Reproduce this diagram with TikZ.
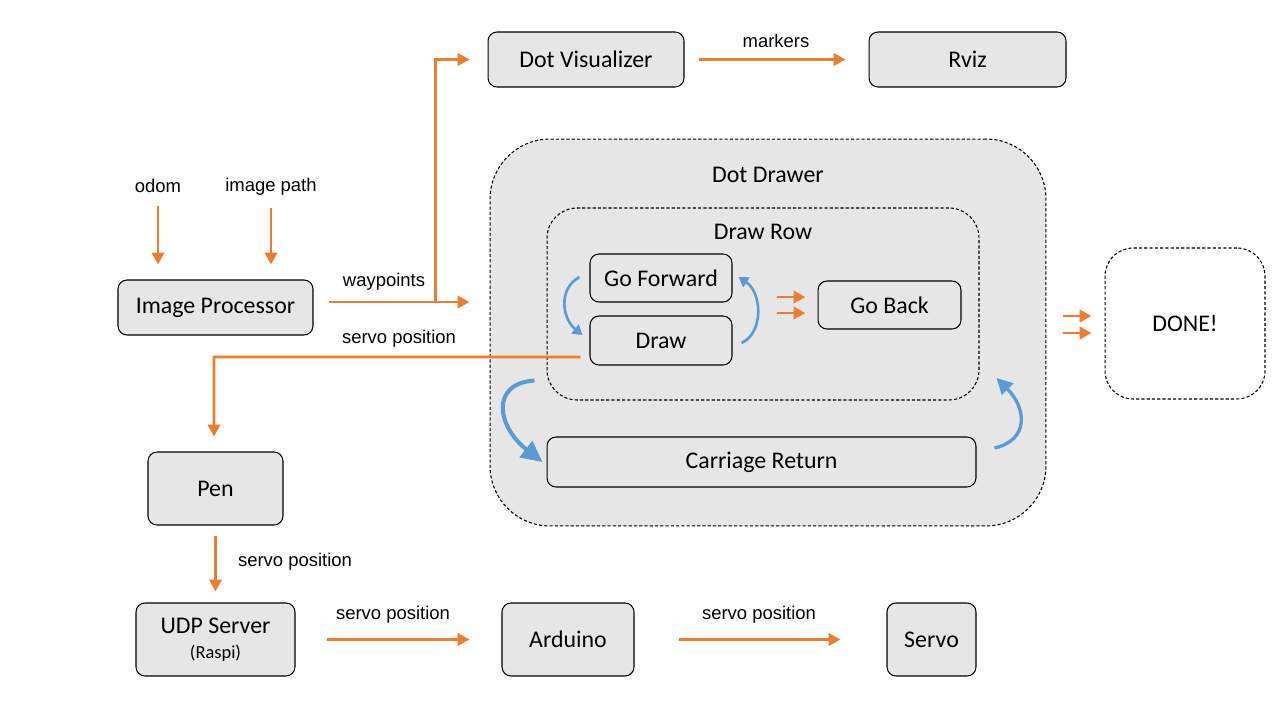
\documentclass[tikz,border=0pt]{standalone}
\usepackage{fontspec}
\setmainfont{Carlito}
\newfontfamily\edgefont{Liberation Sans}
\usetikzlibrary{arrows.meta}

\definecolor{flowor}{HTML}{ED7D31}
\definecolor{loopblue}{HTML}{5B9BD5}
\definecolor{boxgray}{HTML}{E6E6E6}

\begin{document}
\begin{tikzpicture}[x=0.02cm, y=-0.02cm,
	block/.style={draw, rectangle, rounded corners=0.18cm, fill=boxgray, line width=0.6pt, inner sep=0pt, font=\fontsize{13.6}{16}\selectfont},
	group/.style={draw, rectangle, fill=boxgray, line width=0.6pt, dash pattern=on 1.8pt off 1.2pt},
	title/.style={inner sep=0pt, font=\fontsize{13.6}{16}\selectfont},
	tag/.style={inner sep=0pt, font=\edgefont\fontsize{10.5}{12}\selectfont},
	flow/.style={draw=flowor, line width=1.7pt, -{Triangle[length=6.8pt,width=7pt]}},
	turn/.style={draw=loopblue, line width=1.5pt, -{Triangle[length=5.5pt,width=6.5pt]}},
	bigturn/.style={draw=loopblue, line width=2.3pt, -{Triangle[length=12pt,width=11.5pt]}}]
				\useasboundingbox (0,0) rectangle (1280,720);
				
				% dot drawer state machine
				\node[group, rounded corners=1.2cm, minimum width=11.12cm, minimum height=7.74cm] (dotdrawer) at (768,332.5) {};
				\node[title] (dotdrawertitle) at (768,175) {Dot Drawer};
				\node[group, rounded corners=0.6cm, minimum width=8.64cm, minimum height=3.84cm] (drawrow) at (763,304) {};
				\node[title] (drawrowtitle) at (763,232) {Draw Row};
				\node[block, fill=none, minimum width=2.84cm, minimum height=0.96cm] (gofwd) at (661,278) {Go Forward};
				\node[block, fill=none, minimum width=2.84cm, minimum height=0.98cm] (draw) at (661,340.5) {Draw};
				\node[block, fill=none, minimum width=2.86cm, minimum height=0.96cm] (goback) at (889.5,305) {Go Back};
				\node[block, fill=none, minimum width=8.58cm, minimum height=1.00cm] (carriage) at (761.5,462) {Carriage Return};
				\node[group, fill=none, rounded corners=0.56cm, minimum width=3.20cm, minimum height=3.02cm, font=\fontsize{13.6}{16}\selectfont] (done) at (1185,323.5) {DONE!};
				
				% other nodes
				\node[block, minimum width=3.92cm, minimum height=1.10cm] (dotvis) at (586,59.5) {Dot Visualizer};
				\node[block, minimum width=3.94cm, minimum height=1.10cm] (rviz) at (967.5,59.5) {Rviz};
				\node[block, minimum width=3.90cm, minimum height=1.10cm] (improc) at (215.5,307.5) {Image Processor};
				\node[block, minimum width=2.70cm, minimum height=1.46cm] (pen) at (215.5,488.5) {Pen};
				\node[block, minimum width=3.18cm, minimum height=1.46cm, align=center] (udp) at (215.5,639.5) {UDP Server\\[-1.5pt]{\fontsize{10.5}{12}\selectfont (Raspi)}};
				\node[block, minimum width=2.64cm, minimum height=1.46cm] (arduino) at (568,639.5) {Arduino};
				\node[block, minimum width=1.78cm, minimum height=1.46cm] (servo) at (931.5,639.5) {Servo};
				
				% topic labels
				\node[tag] (odom) at (158,186) {odom};
				\node[tag] (imgpath) at (271,187) {image path};
				\node[tag] (markers) at (776,41) {markers};
				\node[tag] (waypoints) at (384,282) {waypoints};
				\node[tag] (servopos) at (399,339) {servo position};
				\node[tag] (penpos) at (295,562) {servo position};
				\node[tag] (udppos) at (393,615) {servo position};
				\node[tag] (ardpos) at (759,615) {servo position};
				
				\coordinate (wpfork) at (435,302);
				\coordinate (spbend) at (214,357);
				
				% topics
				\draw[flow, shorten <=0.26cm, shorten >=0.3cm] (odom) -- (odom |- improc.north);
				\draw[flow, shorten <=0.24cm, shorten >=0.3cm] (imgpath) -- (imgpath |- improc.north);
				\draw[flow, shorten <=0.3cm, shorten >=0.4cm] (improc.east |- wpfork) -- (dotdrawer.west |- wpfork);
				\draw[flow, shorten >=0.36cm] (wpfork) |- (dotvis.west);
				\draw[flow, shorten <=0.28cm, shorten >=0.46cm] (dotvis) -- (rviz);
				\draw[flow, shorten >=0.3cm] ([shift={(-9,16.5)}]draw.west) -- (spbend) -- (spbend |- pen.north);
				\draw[flow, shorten <=0.2cm, shorten >=0.22cm] (pen) -- (udp);
				\draw[flow, shorten <=0.62cm, shorten >=0.64cm] (udp) -- (arduino);
				\draw[flow, shorten <=0.88cm, shorten >=0.92cm] (arduino) -- (servo);
				\draw[flow, shorten <=0.88cm, shorten >=0.24cm] (gofwd.east |- 0,297) -- (goback.west |- 0,297);
				\draw[flow, shorten <=0.88cm, shorten >=0.24cm] (gofwd.east |- 0,313) -- (goback.west |- 0,313);
				\draw[flow, shorten <=0.34cm, shorten >=0.26cm] (dotdrawer.east |- 0,316) -- (done.west |- 0,316);
				\draw[flow, shorten <=0.34cm, shorten >=0.26cm] (dotdrawer.east |- 0,333) -- (done.west |- 0,333);
				
				% state transitions
				\draw[turn] ([shift={(-10,-1)}]gofwd.west) .. controls +(-22,12) and +(-20,-16) .. ([shift={(-7,-5.5)}]draw.west);
				\draw[turn] ([shift={(9,2.5)}]draw.east) .. controls +(22,-10) and +(24,16) .. ([shift={(6,-1)}]gofwd.east);
				\draw[bigturn] ([shift={(-12,-56)}]carriage.north west) .. controls +(-45,3) and +(-45,-35) .. ([shift={(-4,0)}]carriage.west);
				\draw[bigturn, line width=1.9pt, -{Triangle[length=9pt,width=9pt]}] ([shift={(18,-14)}]carriage.east) .. controls +(35,-8) and +(30,30) .. ([shift={(17,74)}]drawrow.east);
			\end{tikzpicture}
\end{document}
